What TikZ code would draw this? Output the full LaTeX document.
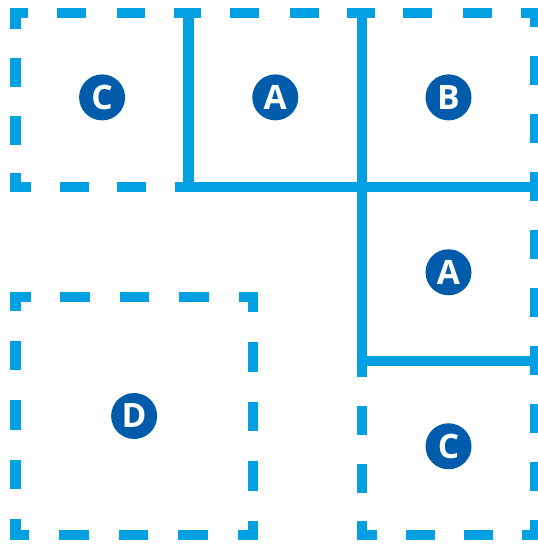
\documentclass[tikz,border=0pt]{standalone}
\usepackage{fontspec}
\setmainfont{Open Sans}
\usepackage{xcolor}
\usetikzlibrary{positioning}
\definecolor{gridblue}{RGB}{0,160,227}
\definecolor{badgeblue}{RGB}{0,91,170}

\begin{document}
\begin{tikzpicture}[
    x=86.6pt, y=-87pt,
    edge/.style={gridblue, line width=5.25pt},
    celledge/.style={edge, dash pattern=on 14.43pt off 14.43pt, dash phase=21.65pt},
    boxedge/.style={edge, dash pattern=on 14.875pt off 14.875pt, dash phase=22.3pt},
    badge/.style={circle, fill=badgeblue, text=white, minimum size=23pt, inner sep=0pt,
        font=\bfseries\fontsize{16.8}{20}\selectfont}
]
    \useasboundingbox (-0.0895,-0.0747) rectangle (3.0167,3.0517);

    % Dashed cells of the grid
    \foreach \i/\j in {0/0, 1/0, 2/0, 2/1, 2/2} {
        \draw[celledge] (\i+0.5,\j) -| (\i+1,\j+1) -| (\i,\j) -- cycle;
    }

    % Dashed box at the lower left
    \draw[boxedge] (0.172,1.632) -| (1.371,3) -| (0,1.632) -- cycle;

    % Solid borders
    \draw[edge] (1,0) -- (1,1) -- (3,1);
    \draw[edge] (2,0) -- (2,2) -- (3,2);

    % Labels
    \node[badge] (c1) at (0.5,0.485) {C};
    \node[badge] (a1) at (1.5,0.485) {A};
    \node[badge] (b1) at (2.5,0.485) {B};
    \node[badge] (a2) at (2.5,1.49) {A};
    \node[badge] (c2) at (2.5,2.49) {C};
    \node[badge] (d1) at (0.685,2.316) {D};
\end{tikzpicture}
\end{document}
